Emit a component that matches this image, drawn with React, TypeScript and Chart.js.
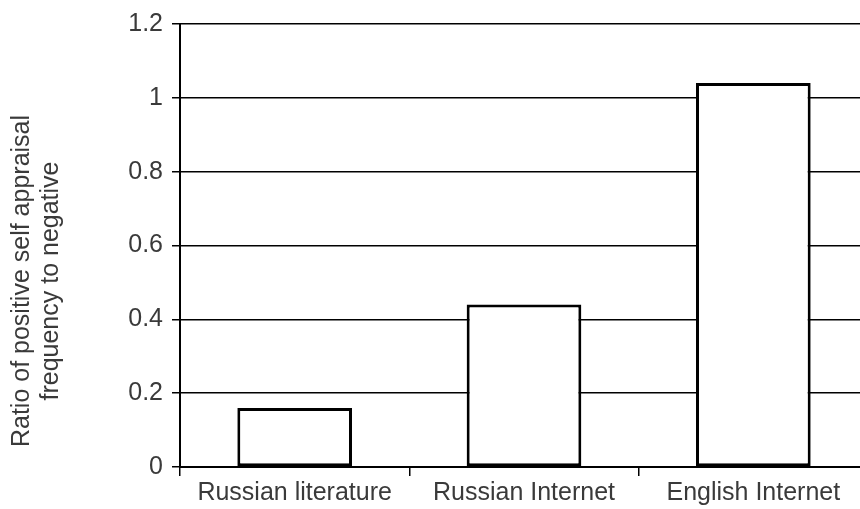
import React, { useEffect, useRef } from "react";
import { Chart, registerables } from "chart.js";

Chart.register(...registerables);

const categories = ["Russian literature", "Russian Internet", "English Internet"];
const ratios = [0.16, 0.44, 1.04];
const yTitleLines = ["Ratio of positive self appraisal", "frequency to negative"];
const yMin = 0;
const yMax = 1.2;
const yStep = 0.2;

const TEXT = "#3a3a3a";
const FONT = "'Liberation Sans', Arial, sans-serif";
const FS = 25;

const yTitlePlugin = {
  id: "yTitle",
  afterDraw(chart: any) {
    const { ctx } = chart;
    ctx.save();
    ctx.fillStyle = TEXT;
    ctx.font = `${FS}px ${FONT}`;
    ctx.textAlign = "center";
    ctx.textBaseline = "middle";
    const cy = 281;
    const xs = [22, 51];
    yTitleLines.forEach((line, i) => {
      ctx.save();
      ctx.translate(xs[i], cy);
      ctx.rotate(-Math.PI / 2);
      ctx.fillText(line, 0, 0);
      ctx.restore();
    });
    ctx.restore();
  },
};

export default function App() {
  const ref = useRef<HTMLCanvasElement | null>(null);
  useEffect(() => {
    if (!ref.current) return;
    const chart = new Chart(ref.current, {
      type: "bar",
      data: {
        labels: categories,
        datasets: [
          {
            data: ratios,
            backgroundColor: "#ffffff",
            borderColor: "#000000",
            borderWidth: 3,
            borderSkipped: false,
            barPercentage: 0.5,
            categoryPercentage: 1,
          },
        ],
      },
      options: {
        animation: false,
        responsive: false,
        devicePixelRatio: 1,
        layout: { padding: { top: 22, right: 32, left: 0, bottom: 0 } },
        plugins: { legend: { display: false }, tooltip: { enabled: false } },
        scales: {
          x: {
            offset: true,
            grid: {
              offset: true,
              drawOnChartArea: false,
              drawTicks: true,
              tickLength: 9,
              color: "#000000",
              lineWidth: 1.5,
            },
            border: { display: true, color: "#000000", width: 2 },
            ticks: {
              color: TEXT,
              font: { family: FONT, size: FS },
              padding: 2,
              maxRotation: 0,
            },
            afterFit(scale: any) {
              scale.height = 42;
            },
          },
          y: {
            min: yMin,
            max: yMax,
            ticks: {
              stepSize: yStep,
              color: TEXT,
              font: { family: FONT, size: FS },
              padding: 9,
              callback: (v: any) => String(Math.round(Number(v) * 10) / 10),
            },
            grid: {
              color: "#000000",
              lineWidth: 1.5,
              drawTicks: true,
              tickLength: 8,
            },
            border: { display: true, color: "#000000", width: 2 },
            afterFit(scale: any) {
              scale.width = 180;
            },
          },
        },
      },
      plugins: [yTitlePlugin],
    });
    return () => chart.destroy();
  }, []);
  return (
    <div
      style={{
        position: "fixed",
        left: 0,
        top: 0,
        width: 860,
        height: 509,
        overflow: "hidden",
        background: "#fff",
      }}
    >
      <canvas ref={ref} width={900} height={509} style={{ display: "block" }} />
    </div>
  );
}
